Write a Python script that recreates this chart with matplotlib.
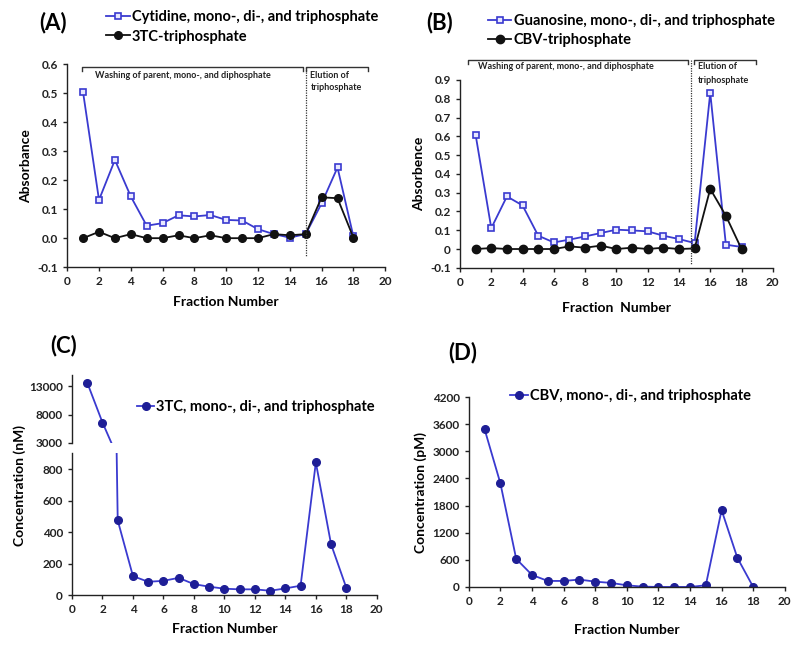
"""Four-panel fractionation figure (absorbance and concentration per fraction)."""

import matplotlib

matplotlib.use("Agg")

import matplotlib.pyplot as plt

plt.rcParams["font.family"] = ["Lato", "DejaVu Sans"]
plt.rcParams["font.weight"] = "bold"

fractions = list(range(1, 19))

# (A) absorbance
cytidine_abs = [0.503, 0.132, 0.270, 0.144, 0.043, 0.052, 0.079, 0.075, 0.080,
                0.063, 0.061, 0.031, 0.014, 0.002, 0.014, 0.120, 0.244, 0.006]
tc3_tp_abs = [0.0, 0.022, 0.0, 0.014, 0.0, 0.0, 0.010, 0.0, 0.010,
              0.0, 0.0, 0.0, 0.014, 0.010, 0.014, 0.141, 0.138, 0.002]

# (B) absorbance
guanosine_abs = [0.607, 0.111, 0.280, 0.232, 0.071, 0.035, 0.050, 0.067, 0.085,
                 0.103, 0.099, 0.094, 0.071, 0.053, 0.032, 0.832, 0.023, 0.011]
cbv_tp_abs = [0.0, 0.005, 0.0, 0.0, 0.0, 0.0, 0.014, 0.007, 0.018,
              0.0, 0.007, 0.0, 0.007, 0.0, 0.003, 0.320, 0.177, 0.0]

# (C) concentration, nM
tc3_conc = [13600, 6600, 474, 120, 84, 90, 109, 69, 53,
            40, 36, 36, 27, 42, 59, 842, 322, 46]

# (D) concentration, pM
cbv_conc = [3490, 2292, 621, 266, 133, 133, 163, 118, 89,
            37, 7, 0, 0, 0, 37, 1700, 643, 0]

x_ticks = list(range(0, 21, 2))
a_ticks = [-0.1, 0.0, 0.1, 0.2, 0.3, 0.4, 0.5, 0.6]
a_ticklabels = ["-0.1", "0.0", "0.1", "0.2", "0.3", "0.4", "0.5", "0.6"]
b_ticks = [-0.1, 0, 0.1, 0.2, 0.3, 0.4, 0.5, 0.6, 0.7, 0.8, 0.9]
b_ticklabels = ["-0.1", "0", "0.1", "0.2", "0.3", "0.4", "0.5", "0.6", "0.7", "0.8", "0.9"]
c_low_ticks = [0, 200, 400, 600, 800]
c_high_ticks = [3000, 8000, 13000]
d_ticks = list(range(0, 4201, 600))

BLUE = "#3a3ad0"
NAVY = "#1e1e96"
TICK_FS = 8.5
LABEL_FS = 10

fig = plt.figure(figsize=(8, 6.5), dpi=100)


def style(ax, left_only=False):
    ax.spines["top"].set_visible(False)
    ax.spines["right"].set_visible(False)
    for s in ("left", "bottom"):
        ax.spines[s].set_color("#222")
        ax.spines[s].set_linewidth(1.0)
    ax.tick_params(labelsize=TICK_FS, direction="out", length=3, width=1, colors="#222")
    if left_only:
        ax.spines["bottom"].set_visible(False)
        ax.tick_params(axis="x", bottom=False, labelbottom=False)


def bracket(ax, x0, x1, y, drop):
    ax.plot([x0, x0, x1, x1], [y - drop, y, y, y - drop], color="#333", lw=1.0, clip_on=False)


def legend(ax, x, y, spacing=0.35, hl=1.6):
    ax.legend(loc="upper left", bbox_to_anchor=(x, y), bbox_transform=fig.transFigure,
              frameon=False, fontsize=10.5, handlelength=hl, handletextpad=0.15,
              borderpad=0, borderaxespad=0, labelspacing=spacing)


# ---- (A)
ax_a = fig.add_axes([0.084, 0.589, 0.3975, 0.312])
ax_a.plot(fractions, cytidine_abs, color=BLUE, lw=1.3, marker="s", ms=5,
          mfc="#e8e8ff", mec=BLUE, mew=1.2, label="Cytidine, mono-, di-, and triphosphate")
ax_a.plot(fractions, tc3_tp_abs, color="#111", lw=1.3, marker="o", ms=5.5,
          label="3TC-triphosphate")
ax_a.set_xlim(0, 20)
ax_a.set_ylim(-0.1, 0.6)
ax_a.set_xticks(x_ticks)
ax_a.set_yticks(a_ticks)
ax_a.set_yticklabels(a_ticklabels)
ax_a.set_xlabel("Fraction Number", fontsize=LABEL_FS, fontweight="bold", labelpad=6)
ax_a.set_ylabel("Absorbance", fontsize=LABEL_FS, fontweight="bold")
style(ax_a)
bracket(ax_a, 0.92, 14.82, 0.59, 0.012)
bracket(ax_a, 15.05, 18.93, 0.59, 0.012)
ax_a.plot([15, 15], [0.59, -0.063], color="#333", lw=0.9, ls=(0, (1, 1)), clip_on=False)
ax_a.text(1.76, 0.56, "Washing of parent, mono-, and diphosphate", fontsize=6.5,
          va="center", ha="left", color="#222")
ax_a.text(15.3, 0.56, "Elution of", fontsize=6.5, va="center", ha="left", color="#222")
ax_a.text(15.3, 0.52, "triphosphate", fontsize=6.5, va="center", ha="left", color="#222")
legend(ax_a, 0.133, 0.984)
fig.text(0.066, 0.966, "(A)", fontsize=16, fontweight="bold", ha="center", va="center")

# ---- (B)
ax_b = fig.add_axes([0.575, 0.588, 0.391, 0.289])
ax_b.plot(fractions, guanosine_abs, color=BLUE, lw=1.3, marker="s", ms=5,
          mfc="#e8e8ff", mec=BLUE, mew=1.2, label="Guanosine, mono-, di-, and triphosphate")
ax_b.plot(fractions, cbv_tp_abs, color="#111", lw=1.3, marker="o", ms=6,
          label="CBV-triphosphate")
ax_b.set_xlim(0, 20)
ax_b.set_ylim(-0.1, 0.9)
ax_b.set_xticks(x_ticks)
ax_b.set_yticks(b_ticks)
ax_b.set_yticklabels(b_ticklabels)
ax_b.set_xlabel("Fraction  Number", fontsize=LABEL_FS, fontweight="bold", labelpad=10)
ax_b.set_ylabel("Absorbence", fontsize=LABEL_FS, fontweight="bold")
style(ax_b)
bracket(ax_b, 0.5, 14.6, 1.006, 0.02)
bracket(ax_b, 14.95, 18.9, 1.006, 0.02)
ax_b.plot([14.8, 14.8], [1.006, -0.085], color="#333", lw=0.9, ls=(0, (1, 1)), clip_on=False)
ax_b.text(1.15, 0.97, "Washing of parent, mono-, and diphosphate", fontsize=6.5,
          va="center", ha="left", color="#222")
ax_b.text(15.2, 0.97, "Elution of", fontsize=6.5, va="center", ha="left", color="#222")
ax_b.text(15.2, 0.895, "triphosphate", fontsize=6.5, va="center", ha="left", color="#222")
legend(ax_b, 0.61, 0.979)
fig.text(0.55, 0.966, "(B)", fontsize=16, fontweight="bold", ha="center", va="center")

# ---- (C) broken y axis
ax_c = fig.add_axes([0.09, 0.0846, 0.381, 0.218])
ax_c_top = fig.add_axes([0.09, 0.3185, 0.381, 0.105])
for ax in (ax_c, ax_c_top):
    ax.plot(fractions, tc3_conc, color=BLUE, lw=1.3, marker="o", ms=5.5,
            mfc=NAVY, mec=NAVY, label="3TC, mono-, di-, and triphosphate")
    ax.set_xlim(0, 20)
ax_c.set_ylim(0, 900)
ax_c.set_yticks(c_low_ticks)
ax_c.set_xticks(x_ticks)
ax_c_top.set_ylim(3000, 15000)
ax_c_top.set_yticks(c_high_ticks)
style(ax_c)
style(ax_c_top, left_only=True)
ax_c.set_xlabel("Fraction Number", fontsize=LABEL_FS, fontweight="bold", labelpad=6)
fig.text(0.024, 0.253, "Concentration (nM)", fontsize=LABEL_FS, fontweight="bold",
         rotation=90, ha="center", va="center")
legend(ax_c_top, 0.171, 0.385, hl=1.2)
fig.text(0.079, 0.469, "(C)", fontsize=16, fontweight="bold", ha="center", va="center")

# ---- (D)
ax_d = fig.add_axes([0.586, 0.097, 0.395, 0.292])
ax_d.plot(fractions, cbv_conc, color=BLUE, lw=1.3, marker="o", ms=5.5,
          mfc=NAVY, mec=NAVY, label="CBV, mono-, di-, and triphosphate")
ax_d.set_xlim(0, 20)
ax_d.set_ylim(0, 4200)
ax_d.set_xticks(x_ticks)
ax_d.set_yticks(d_ticks)
style(ax_d)
ax_d.set_xlabel("Fraction Number", fontsize=LABEL_FS, fontweight="bold", labelpad=12)
ax_d.set_ylabel("Concentration (pM)", fontsize=LABEL_FS, fontweight="bold")
legend(ax_d, 0.638, 0.402, hl=1.2)
fig.text(0.579, 0.457, "(D)", fontsize=16, fontweight="bold", ha="center", va="center")

fig.savefig("out.png", dpi=100)
plt.close(fig)
